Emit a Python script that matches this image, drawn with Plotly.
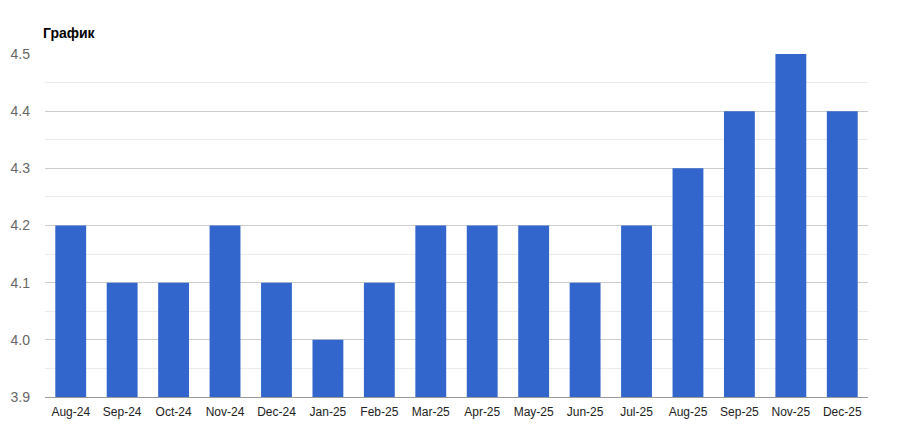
import plotly.graph_objects as go

months = ["Aug-24", "Sep-24", "Oct-24", "Nov-24", "Dec-24", "Jan-25", "Feb-25", "Mar-25",
          "Apr-25", "May-25", "Jun-25", "Jul-25", "Aug-25", "Sep-25", "Nov-25", "Dec-25"]
values = [4.2, 4.1, 4.1, 4.2, 4.1, 4.0, 4.1, 4.2, 4.2, 4.2, 4.1, 4.2, 4.3, 4.4, 4.5, 4.4]
y_ticks = [3.9, 4.0, 4.1, 4.2, 4.3, 4.4, 4.5]
title_text = "График"

W, H = 892, 432  # page body has an 8px margin

fig = go.Figure(go.Bar(
    x=months, y=values, marker=dict(color="#3366cc", line=dict(width=0)),
    hoverinfo="x+y",
))

fig.update_layout(
    width=W, height=H,
    margin=dict(l=37, r=32, t=46, b=43, autoexpand=False),
    paper_bgcolor="white", plot_bgcolor="white",
    bargap=0.4,
    showlegend=False,
    font=dict(family="Liberation Sans, Arial, sans-serif", size=13, color="#444"),
    title=dict(text="<b>" + title_text + "</b>", x=35 / W, xanchor="left",
               y=1 - 25 / H, yanchor="middle",
               font=dict(size=14, color="#000")),
)
fig.update_yaxes(
    range=[3.9, 4.5], tickvals=y_ticks, ticktext=[f"{v:.1f}" for v in y_ticks],
    showgrid=True, gridcolor="#cccccc", gridwidth=1,
    minor=dict(dtick=0.05, tick0=3.9, showgrid=True, gridcolor="#ebebeb", gridwidth=1),
    zeroline=False, ticks="", ticklabelstandoff=14, automargin=False,
    tickfont=dict(size=14, color="#666"),
)
fig.update_xaxes(
    type="category", showgrid=False, showline=True, linecolor="#999", linewidth=1,
    ticks="", ticklabelstandoff=4, automargin=False, tickfont=dict(size=12, color="#222"),
)

fig.write_html("out.html")
